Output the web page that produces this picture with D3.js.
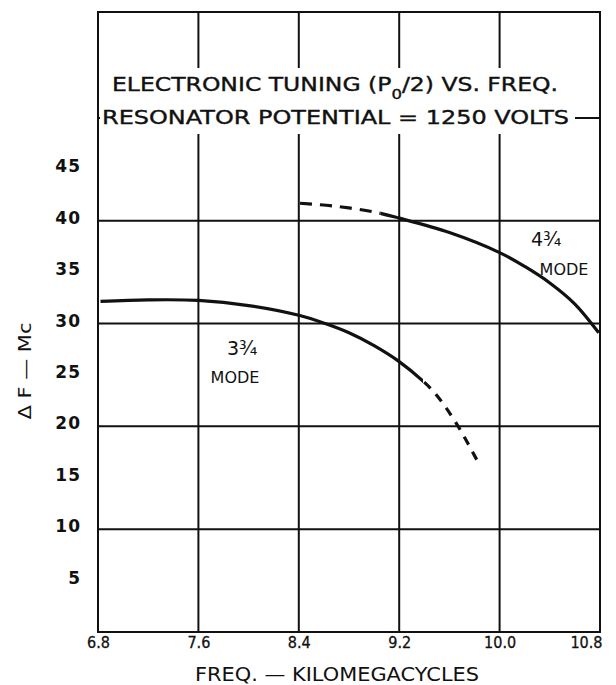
<!DOCTYPE html>
<html>
<head>
<meta charset="utf-8">
<script src="https://cdn.jsdelivr.net/npm/d3@7"></script>
<style>
  body { margin: 0; background: #fff; }
  svg { display: block; }
  text { font-family: "DejaVu Sans", sans-serif; fill: #111; }
  .grid { stroke: #111; stroke-width: 2; }
  .curve { fill: none; stroke: #111; stroke-width: 3.2; stroke-linecap: butt; }
</style>
</head>
<body>
<div id="chart"></div>
<script>
// axis ticks
var xTicks = [6.8, 7.6, 8.4, 9.2, 10.0, 10.8]
var xTickLabels = ["6.8", "7.6", "8.4", "9.2", "10.0", "10.8"]
var yTicks = [5, 10, 15, 20, 25, 30, 35, 40, 45]
var yGrid = [10, 20, 30, 40, 50]

// 3 3/4 mode  [freq kMc, delta F Mc], dashed beyond mode3DashFrom
var mode3 = [[6.82, 32.15], [7.2, 32.3], [7.6, 32.25], [8.0, 31.75], [8.4, 30.8],
             [8.61, 30.0], [8.8, 29.1], [9.0, 27.85], [9.2, 26.3], [9.39, 24.4],
             [9.5, 23.0], [9.66, 20.2], [9.84, 16.25]]
var mode3DashFrom = 9.39

// 4 3/4 mode, dashed below mode4DashTo
var mode4 = [[8.41, 41.7], [8.7, 41.4], [9.0, 40.85], [9.2, 40.25], [9.6, 38.85],
             [10.0, 36.9], [10.2, 35.55], [10.4, 33.95], [10.6, 31.9], [10.79, 29.1]]
var mode4DashTo = 9.05

var width = 616, height = 685
// plot frame ("top" is taken by window.top, so use other names)
var plotL = 98, plotR = 600, plotT = 12, plotB = 632

var svg = d3.select("#chart").append("svg")
    .attr("width", width)
    .attr("height", height)

var x = d3.scaleLinear().domain([6.8, 10.8]).range([plotL, plotR])
var y = d3.scaleLinear().domain([0, 60.3]).range([plotB, plotT])

// clip rects to split each curve into solid / dashed parts
var defs = svg.append("defs")
function addClip(id, x0, x1) {
  defs.append("clipPath").attr("id", id)
    .append("rect")
    .attr("x", x0).attr("y", 0)
    .attr("width", x1 - x0).attr("height", height)
}
addClip("m3solid", 0, x(mode3DashFrom))
addClip("m3dash", x(mode3DashFrom), width)
addClip("m4dash", 0, x(mode4DashTo))
addClip("m4solid", x(mode4DashTo), width)

// grid lines
svg.append("g").selectAll("line")
    .data(xTicks.slice(1, -1))
    .join("line")
    .attr("class", "grid")
    .attr("x1", d => x(d)).attr("x2", d => x(d))
    .attr("y1", plotT).attr("y2", plotB)

svg.append("g").selectAll("line")
    .data(yGrid)
    .join("line")
    .attr("class", "grid")
    .attr("x1", plotL).attr("x2", plotR)
    .attr("y1", d => y(d)).attr("y2", d => y(d))

// white patch behind the title, the grid is broken there
svg.append("rect")
    .attr("x", plotL + 2).attr("y", 68)
    .attr("width", 575 - plotL - 2).attr("height", 66)
    .attr("fill", "#fff")

// frame
svg.append("rect")
    .attr("x", plotL).attr("y", plotT)
    .attr("width", plotR - plotL).attr("height", plotB - plotT)
    .attr("fill", "none")
    .attr("stroke", "#111")
    .attr("stroke-width", 2)

// curves
var line = d3.line()
    .x(d => x(d[0]))
    .y(d => y(d[1]))
    .curve(d3.curveCatmullRom.alpha(0.5))

svg.append("path").datum(mode3).attr("class", "curve")
    .attr("clip-path", "url(#m3solid)").attr("d", line)
svg.append("path").datum(mode3).attr("class", "curve")
    .attr("clip-path", "url(#m3dash)")
    .attr("stroke-dasharray", "9,8").attr("stroke-dashoffset", -258)
    .attr("stroke-width", 2.6).attr("d", line)
svg.append("path").datum(mode4).attr("class", "curve")
    .attr("clip-path", "url(#m4dash)")
    .attr("stroke-dasharray", "12,8").attr("stroke-width", 2.6).attr("d", line)
svg.append("path").datum(mode4).attr("class", "curve")
    .attr("clip-path", "url(#m4solid)").attr("d", line)

// axes (labels only)
var xAxis = svg.append("g")
    .attr("transform", "translate(0," + plotB + ")")
    .call(d3.axisBottom(x).tickValues(xTicks)
        .tickFormat((d, i) => xTickLabels[i]).tickSize(0).tickPadding(5))
xAxis.select(".domain").remove()
xAxis.selectAll("text")
    .style("font-size", "16px")
    .style("font-family", "'DejaVu Sans Condensed', 'DejaVu Sans', sans-serif")
    .style("stroke", "#111").style("stroke-width", 0.3)
    .attr("fill", "#111")
    .attr("text-anchor", (d, i) => i == xTicks.length - 1 ? "end" : "middle")
    .attr("dx", (d, i) => i == xTicks.length - 1 ? 2 : 0)

var yAxis = svg.append("g")
    .attr("transform", "translate(" + plotL + ",0)")
    .call(d3.axisLeft(y).tickValues(yTicks).tickSize(0).tickPadding(17))
yAxis.select(".domain").remove()
yAxis.selectAll("text")
    .style("font-size", "17px")
    .style("font-weight", "bold")
    .style("letter-spacing", "1px")
    .attr("fill", "#111")
    .attr("dy", "0.15em")

// axis titles
svg.append("text")
    .attr("x", 337).attr("y", 681)
    .attr("text-anchor", "middle")
    .attr("textLength", 284)
    .attr("lengthAdjust", "spacingAndGlyphs")
    .style("font-size", "19px")
    .text("FREQ. — KILOMEGACYCLES")

svg.append("text")
    .attr("transform", "translate(31,371) rotate(-90)")
    .attr("text-anchor", "middle")
    .attr("textLength", 97)
    .attr("lengthAdjust", "spacingAndGlyphs")
    .style("font-size", "18px")
    .text("Δ F — Mc")

// title
var t1 = svg.append("text")
    .attr("x", 112).attr("y", 91)
    .attr("textLength", 446)
    .attr("lengthAdjust", "spacingAndGlyphs")
    .style("font-size", "20px")
    .style("stroke", "#111").style("stroke-width", 0.4)
t1.append("tspan").text("ELECTRONIC  TUNING (P")
t1.append("tspan").attr("dy", 8).style("font-size", "14px").text("0")
t1.append("tspan").attr("dy", -8).text("/2)  VS. FREQ.")

svg.append("text")
    .attr("x", 102).attr("y", 124)
    .attr("textLength", 467)
    .attr("lengthAdjust", "spacingAndGlyphs")
    .style("font-size", "20px")
    .style("stroke", "#111").style("stroke-width", 0.4)
    .text("RESONATOR  POTENTIAL = 1250 VOLTS")

// mode labels
svg.append("text")
    .attr("x", 227).attr("y", 355)
    .style("font-size", "19px")
    .text("3¾")
svg.append("text")
    .attr("x", 235).attr("y", 383)
    .attr("text-anchor", "middle")
    .style("font-size", "16px")
    .text("MODE")

svg.append("text")
    .attr("x", 531).attr("y", 246)
    .style("font-size", "19px")
    .text("4¾")
svg.append("text")
    .attr("x", 564).attr("y", 275)
    .attr("text-anchor", "middle")
    .style("font-size", "16px")
    .text("MODE")
</script>
</body>
</html>
